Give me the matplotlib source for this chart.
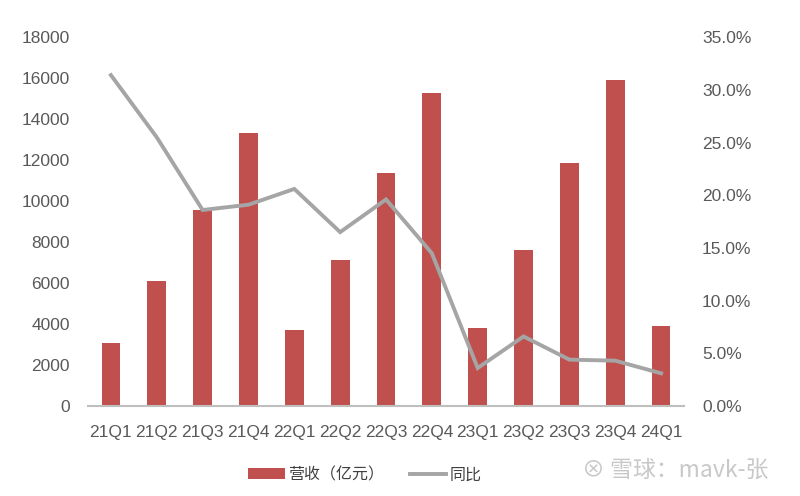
import matplotlib.pyplot as plt
import numpy as np
from matplotlib.ticker import FuncFormatter

plt.rcParams['font.family'] = ['Liberation Sans', 'Noto Sans CJK SC', 'DejaVu Sans']

quarters = ['21Q1', '21Q2', '21Q3', '21Q4', '22Q1', '22Q2', '22Q3', '22Q4',
            '23Q1', '23Q2', '23Q3', '23Q4', '24Q1']
revenue = [3060, 6110, 9560, 13330, 3700, 7140, 11370, 15280,
           3800, 7610, 11850, 15930, 3920]
yoy = [31.4, 25.5, 18.6, 19.1, 20.6, 16.5, 19.6, 14.5,
       3.6, 6.6, 4.4, 4.3, 3.1]

fig = plt.figure(figsize=(8, 4.96), dpi=100)
ax = fig.add_axes([0.11, 0.1815, 0.745, 0.7435])
ax2 = ax.twinx()

x = np.arange(len(quarters))
bars = ax.bar(x, revenue, width=0.41, color='#C0504D', zorder=2, label='营收（亿元）')
line, = ax2.plot(x, [v / 100 for v in yoy], color='#A5A5A5', lw=2.8,
                 solid_joinstyle='miter', label='同比')

ax.set_xlim(-0.5, len(quarters) - 0.5)
ax.set_ylim(0, 18000)
ax.set_yticks(range(0, 18001, 2000))
ax2.set_ylim(0, 0.35)
ax2.set_yticks(np.arange(0, 0.351, 0.05))
ax2.yaxis.set_major_formatter(FuncFormatter(lambda v, p: '%.1f%%' % (v * 100)))

ax.set_xticks(x)
ax.set_xticklabels(quarters)

for a in (ax, ax2):
    for s in ('top', 'left', 'right', 'bottom'):
        a.spines[s].set_visible(False)
    a.tick_params(length=0, colors='#595959', labelsize=12.5)
ax.spines['bottom'].set_visible(True)
ax.spines['bottom'].set_color('#BFBFBF')
ax.spines['bottom'].set_linewidth(1.5)
ax.tick_params(axis='y', pad=13)
ax.tick_params(axis='x', pad=14)
ax2.tick_params(axis='y', pad=13)

fig.legend([bars, line], ['营收（亿元）', '同比'], loc='center', ncol=2,
           bbox_to_anchor=(0.456, 0.043), frameon=False, fontsize=11.5,
           handlelength=2.3, columnspacing=1.6, handletextpad=0.2,
           labelcolor='#404040')

# watermark
fig.text(0.7275, 0.052, '⊗ 雪球：mavk-张', color='#C8C8C8', fontsize=16.5,
         va='center', ha='left', family=['Noto Sans CJK SC', 'DejaVu Sans'])

fig.savefig('out.png', dpi=100)
